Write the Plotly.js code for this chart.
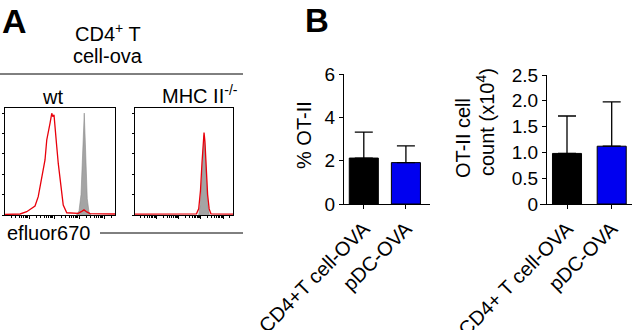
<!DOCTYPE html>
<html>
<head>
<meta charset="utf-8">
<script src="https://cdn.plot.ly/plotly-3.0.1.min.js"></script>
<style>html,body{margin:0;padding:0;background:#fff;}#chart{width:633px;height:330px;}</style>
</head>
<body>
<div id="chart"></div>
<script>
// ---- Panel A: histogram data (efluor670 intensity, relative count) ----
const wtRedX = [1.1, 4.4, 8.1, 10.5, 12.9, 17.4, 23.4, 27.5, 32.4, 37.2, 43.7, 51.3, 58.9, 69.2, 81.3, 89.1, 100, 110, 129, 148, 174, 204, 234, 324, 589, 933, 1288, 1585, 2042, 2754, 27542];
const wtRedY = [0.03, 0.05, 0.16, 0.25, 0.33, 0.44, 0.9, 1.39, 1.88, 2.21, 2.7, 3.68, 4.17, 4.5, 4.99, 4.83, 4.91, 4.17, 3.35, 2.53, 1.88, 1.06, 0.49, 0.11, 0.08, 0.08, 0.18, 0.25, 0.15, 0.07, 0.05];
const wtGreyX = [794, 1000, 1202, 1380, 1514, 1622, 1738, 1905, 2138, 2512, 3020];
const wtGreyY = [0, 0.2, 1.0, 2.5, 4.0, 5.0, 4.0, 2.2, 0.8, 0.15, 0];
const mhcRedX = [1.1, 631, 794, 955, 1122, 1259, 1380, 1514, 1698, 1995, 2344, 2818, 27542];
const mhcRedY = [0.04, 0.06, 0.3, 1.2, 2.6, 3.6, 4.05, 3.6, 2.4, 1.0, 0.3, 0.06, 0.04];
const mhcGreyX = [794, 933, 1096, 1259, 1380, 1514, 1738, 1995, 2399];
const mhcGreyY = [0, 0.5, 1.8, 3.3, 3.9, 3.3, 1.8, 0.6, 0];

// ---- Panel B: bar data ----
const cats1 = ["CD4+T cell-OVA", "pDC-OVA"];
const pctOT = [2.12, 1.91];
const pctErr = [1.2, 0.77];
const cats2 = ["CD4+ T cell-OVA", "pDC-OVA"];
const countOT = [0.98, 1.12];
const countErr = [0.725, 0.86];
const barColors = ["#000000", "#0000f0"];
const ticks1 = [0, 2, 4, 6];
const ticks1Text = ["0", "2", "4", "6"];
const ticks2 = [0, 0.5, 1.0, 1.5, 2.0, 2.5];
const ticks2Text = ["0", "0.5", "1.0", "1.5", "2.0", "2.5"];

const W = 633, H = 330;
const px = v => v / W;
const py = v => 1 - v / H;
const FONT = "Liberation Sans, Arial, sans-serif";

const red = "#e8000b";
const grey = "#a4a4a4";

const traces = [
  {x: wtGreyX, y: wtGreyY, xaxis: "x", yaxis: "y", type: "scatter", mode: "lines", fill: "tozeroy",
   fillcolor: grey, line: {color: "#8a8a8a", width: 0.6}, hoverinfo: "skip"},
  {x: wtRedX, y: wtRedY, xaxis: "x", yaxis: "y", type: "scatter", mode: "lines",
   line: {color: red, width: 1.3}, hoverinfo: "skip"},
  {x: mhcGreyX, y: mhcGreyY, xaxis: "x2", yaxis: "y2", type: "scatter", mode: "lines", fill: "tozeroy",
   fillcolor: grey, line: {color: "#8a8a8a", width: 0.6}, hoverinfo: "skip"},
  {x: mhcRedX, y: mhcRedY, xaxis: "x2", yaxis: "y2", type: "scatter", mode: "lines",
   line: {color: red, width: 1.3}, hoverinfo: "skip"},
  {x: cats1, y: pctOT, xaxis: "x3", yaxis: "y3", type: "bar", width: 0.69,
   marker: {color: barColors, line: {color: "#000", width: 1}},
   error_y: {type: "data", symmetric: false, array: pctErr, arrayminus: [0, 0], color: "#000", thickness: 1.3, width: 9}},
  {x: cats2, y: countOT, xaxis: "x4", yaxis: "y4", type: "bar", width: 0.65,
   marker: {color: barColors, line: {color: "#000", width: 1}},
   error_y: {type: "data", symmetric: false, array: countErr, arrayminus: [0, 0], color: "#000", thickness: 1.3, width: 9}}
];

const histX = (d) => ({
  domain: d, type: "log", range: [0.04, 4.44], showline: true, mirror: true, linecolor: "#000", linewidth: 1,
  showgrid: false, zeroline: false, showticklabels: false, ticks: "outside", ticklen: 3, tickcolor: "#000", dtick: 1,
  minor: {ticks: "outside", ticklen: 2, tickcolor: "#000", showgrid: false}, fixedrange: true
});
const histY = (anchor) => ({
  domain: [py(215), py(108)], range: [0, 5.25], anchor: anchor, showline: true, mirror: true, linecolor: "#000", linewidth: 1,
  showgrid: false, zeroline: false, showticklabels: false, ticks: "outside", ticklen: 2, tickcolor: "#000", dtick: 1, fixedrange: true
});

const tickFont = {family: FONT, size: 20, color: "#000"};
const yTickFont = {family: FONT, size: 19, color: "#000"};
const txt = (size) => ({family: FONT, size: size, color: "#000"});

const layout = {
  width: W, height: H, margin: {l: 0, r: 0, t: 0, b: 0}, paper_bgcolor: "#fff", plot_bgcolor: "rgba(0,0,0,0)",
  showlegend: false, font: {family: FONT, color: "#000"},
  xaxis: histX([px(5), px(115)]),
  yaxis: histY("x"),
  xaxis2: Object.assign(histX([px(135), px(233)]), {anchor: "y2"}),
  yaxis2: histY("x2"),
  xaxis3: {domain: [px(339), px(430)], anchor: "y3", range: [-0.589, 1.572], type: "category", showline: true, linecolor: "#000",
    linewidth: 1.2, ticks: "outside", ticklen: 4, tickcolor: "#000", tickangle: -45, tickfont: tickFont, showgrid: false, zeroline: false},
  yaxis3: {domain: [py(204), py(74)], anchor: "free", position: px(343), range: [0, 6], tickvals: ticks1, ticktext: ticks1Text,
    showline: true, linecolor: "#000", linewidth: 1.2, ticks: "outside", ticklen: 4, tickcolor: "#000", tickfont: yTickFont,
    showgrid: false, zeroline: false},
  xaxis4: {domain: [px(540), px(632)], anchor: "y4", range: [-0.604, 1.454], type: "category", showline: true, linecolor: "#000",
    linewidth: 1.2, ticks: "outside", ticklen: 4, tickcolor: "#000", tickangle: -45, tickfont: tickFont, showgrid: false, zeroline: false},
  yaxis4: {domain: [py(204), py(75)], anchor: "free", position: px(546), range: [0, 2.5], tickvals: ticks2, ticktext: ticks2Text,
    showline: true, linecolor: "#000", linewidth: 1.2, ticks: "outside", ticklen: 4, tickcolor: "#000", tickfont: yTickFont,
    showgrid: false, zeroline: false},
  shapes: [
    {type: "line", xref: "paper", yref: "paper", x0: 0, x1: px(243), y0: py(74), y1: py(74), line: {color: "#000", width: 1}},
    {type: "line", xref: "paper", yref: "paper", x0: px(100), x1: px(243), y0: py(233), y1: py(233), line: {color: "#000", width: 1}}
  ],
  annotations: [
    {text: "<b>A</b>", x: px(0), y: 1, xref: "paper", yref: "paper", xanchor: "left", yanchor: "top", showarrow: false, font: txt(34)},
    {text: "<b>B</b>", x: px(303), y: 1, xref: "paper", yref: "paper", xanchor: "left", yanchor: "top", showarrow: false, font: txt(33)},
    {text: "CD4<sup>+</sup> T", x: px(108), y: py(33), xref: "paper", yref: "paper", xanchor: "center", yanchor: "middle", showarrow: false, font: txt(20)},
    {text: "cell-ova", x: px(108), y: py(56), xref: "paper", yref: "paper", xanchor: "center", yanchor: "middle", showarrow: false, font: txt(20)},
    {text: "wt", x: px(52), y: py(97), xref: "paper", yref: "paper", xanchor: "center", yanchor: "middle", showarrow: false, font: txt(20)},
    {text: "MHC II<sup>-/-</sup>", x: px(200), y: py(95), xref: "paper", yref: "paper", xanchor: "center", yanchor: "middle", showarrow: false, font: txt(20)},
    {text: "efluor670", x: px(5), y: py(233), xref: "paper", yref: "paper", xanchor: "left", yanchor: "middle", showarrow: false, font: txt(20)},
    {text: "% OT-II", x: px(304), y: py(135), xref: "paper", yref: "paper", xanchor: "center", yanchor: "middle", textangle: -90, showarrow: false, font: txt(20)},
    {text: "OT-II cell", x: px(463), y: py(138), xref: "paper", yref: "paper", xanchor: "center", yanchor: "middle", textangle: -90, showarrow: false, font: txt(20)},
    {text: "count (x10<sup>4</sup>)", x: px(486), y: py(122), xref: "paper", yref: "paper", xanchor: "center", yanchor: "middle", textangle: -90, showarrow: false, font: txt(20)}
  ]
};

Plotly.newPlot("chart", traces, layout, {displayModeBar: false, staticPlot: true});
</script>
</body>
</html>
